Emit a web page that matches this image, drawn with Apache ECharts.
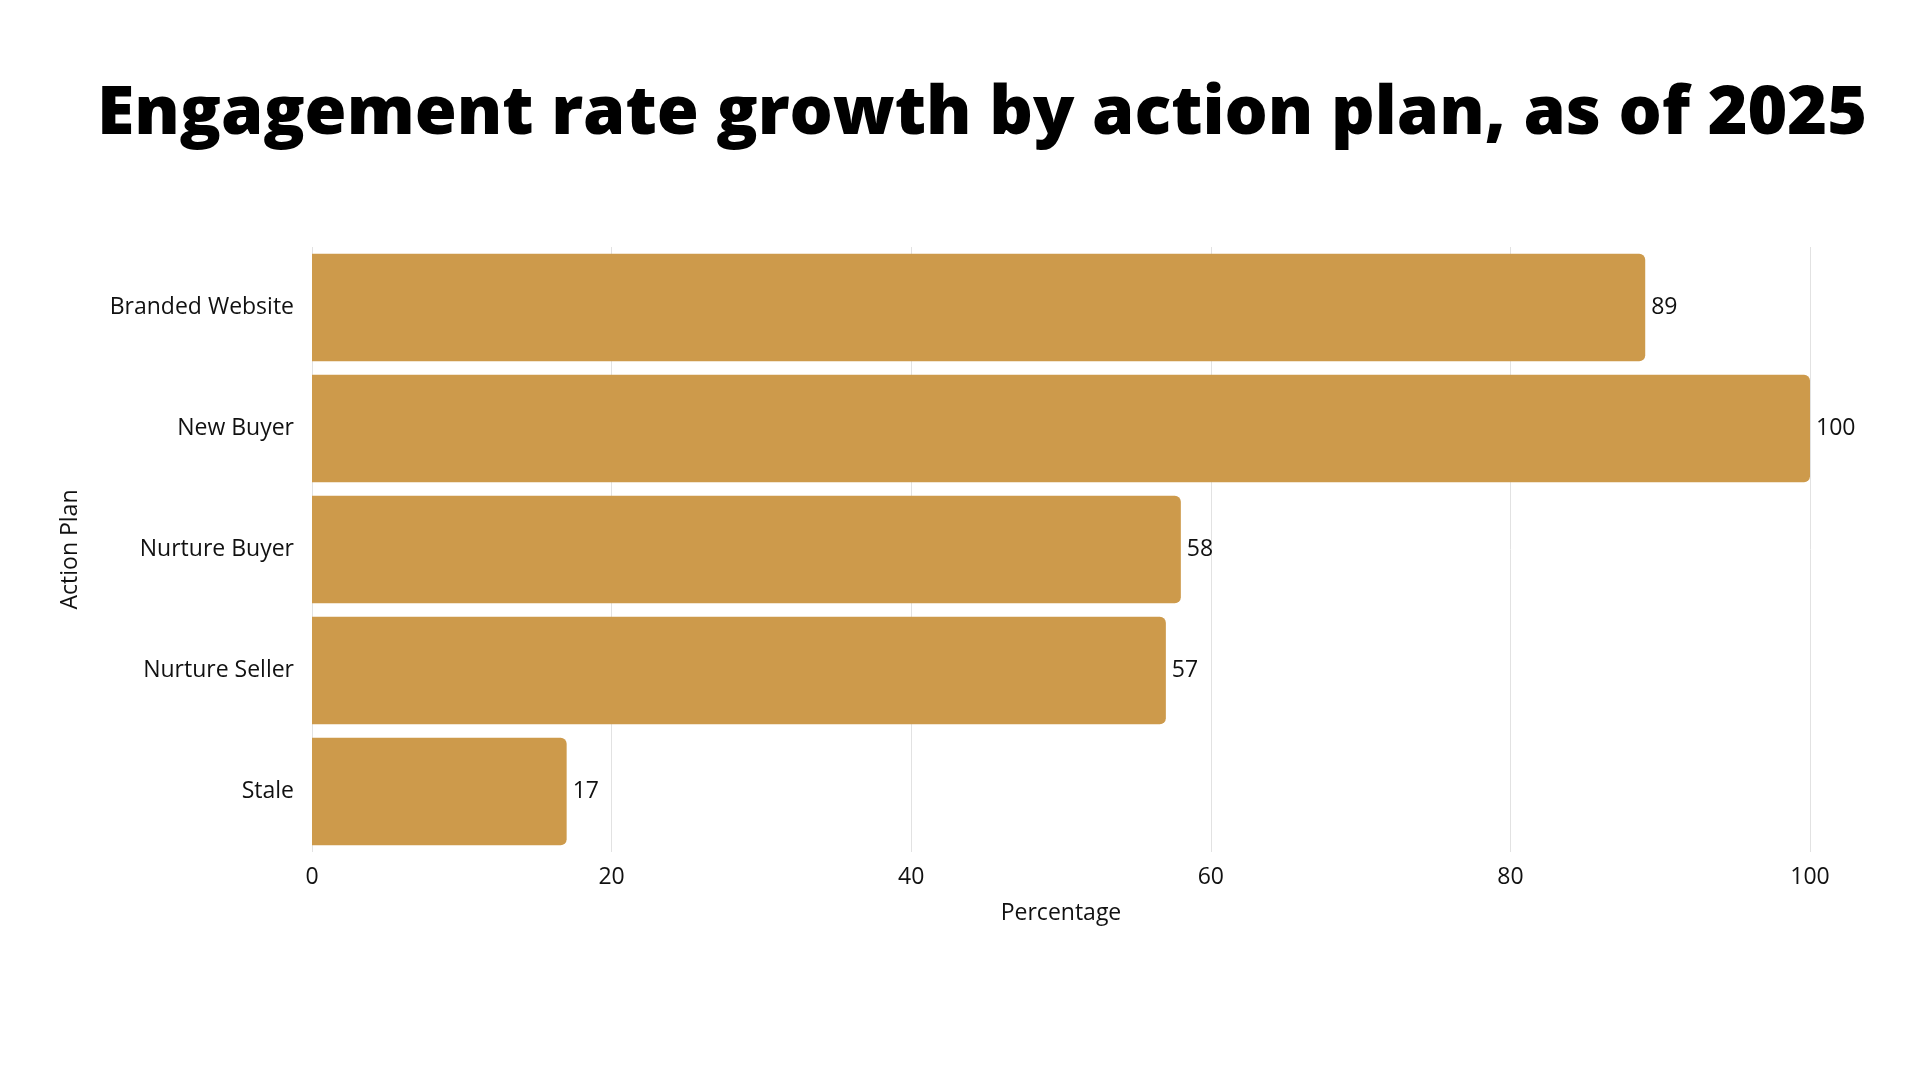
<!DOCTYPE html>
<html>
<head>
<meta charset="utf-8">
<script src="https://cdn.jsdelivr.net/npm/echarts@6/dist/echarts.min.js"></script>
<style>html,body{margin:0;padding:0;background:#fff}#chart{width:1920px;height:1080px}</style>
</head>
<body>
<div id="chart"></div>
<script>
const categories = ['Branded Website', 'New Buyer', 'Nurture Buyer', 'Nurture Seller', 'Stale'];
const values = [89, 100, 58, 57, 17];

const chart = echarts.init(document.getElementById('chart'));
chart.setOption({
    backgroundColor: '#fff',
    title: {
        text: 'Engagement rate growth by action plan, as of 2025',
        left: 977, top: 76, textAlign: 'center',
        textStyle: { fontFamily: 'Open Sans', fontWeight: 800, fontSize: 68, color: '#000' }
    },
    grid: { left: 312, right: 110, top: 247, bottom: 228 },
    xAxis: {
        type: 'value', min: 0, max: 100, interval: 20,
        name: 'Percentage', nameLocation: 'middle', nameGap: 50,
        nameTextStyle: { fontFamily: 'Open Sans', fontSize: 23, color: '#111' },
        axisLabel: { fontFamily: 'Open Sans', fontSize: 23, color: '#111', margin: 14 },
        axisLine: { show: false }, axisTick: { show: false },
        splitLine: { lineStyle: { color: '#e2e2e2', width: 1 } }
    },
    yAxis: {
        type: 'category', data: categories, inverse: true,
        name: 'Action Plan', nameLocation: 'middle', nameGap: 230, nameRotate: 90,
        nameTextStyle: { fontFamily: 'Open Sans', fontSize: 23, color: '#111' },
        axisLabel: { fontFamily: 'Open Sans', fontSize: 23, color: '#111', margin: 18 },
        axisLine: { show: false }, axisTick: { show: false }
    },
    series: [{
        type: 'bar', data: values, barCategoryGap: '11%',
        itemStyle: { color: '#CD9A4B', borderRadius: [0, 6, 6, 0] },
        label: { show: true, position: 'right', distance: 6, fontFamily: 'Open Sans', fontSize: 23, color: '#111' }
    }]
});
</script>
</body>
</html>
